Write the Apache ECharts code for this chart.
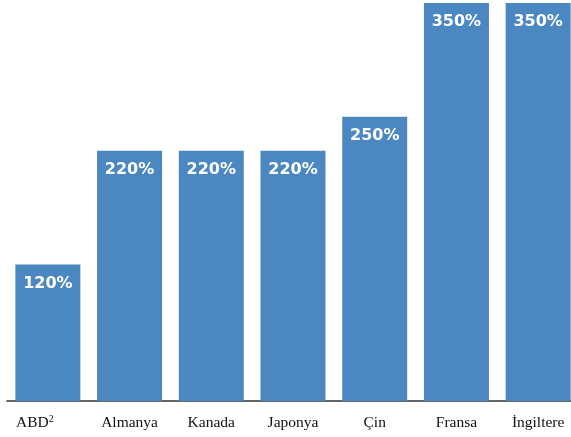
<!DOCTYPE html>
<html>
<head>
<meta charset="utf-8">
<script src="https://cdn.jsdelivr.net/npm/echarts@6/dist/echarts.min.js"></script>
<style>
  html, body { margin: 0; padding: 0; background: #fff; overflow: hidden; }
  /* the plot runs a few pixels past the right edge of the window */
  #chart { width: 580px; height: 437px; }
</style>
</head>
<body>
<div id="chart"></div>
<script>
// Country names
const categories = ['ABD', 'Almanya', 'Kanada', 'Japonya', 'Çin', 'Fransa', 'İngiltere'];
// Footnote markers per country ('' = none)
const footnotes = ['2', '', '', '', '', '', ''];
// Percent values shown on each bar
const values = [120, 220, 220, 220, 250, 350, 350];

const chart = echarts.init(document.getElementById('chart'));
chart.setOption({
  animation: false,
  grid: { left: 7, right: 1, top: 3, bottom: 36 },
  xAxis: {
    type: 'category',
    data: categories,
    axisLine: { lineStyle: { color: '#333', width: 1.5 } },
    axisTick: { show: false },
    axisLabel: {
      interval: 0,
      margin: 13,
      formatter: function (v, i) {
        return footnotes[i] ? '{n|' + v + '}{sup|' + footnotes[i] + '}' : '{n|' + v + '}';
      },
      rich: {
        n: { fontFamily: 'Liberation Serif', fontSize: 15.5, lineHeight: 18, color: '#111' },
        sup: { fontFamily: 'Liberation Serif', fontSize: 10, lineHeight: 10, verticalAlign: 'top',
               color: '#111', padding: [0, 26, 0, 0] }
      }
    }
  },
  yAxis: {
    type: 'value',
    min: 0,
    max: 350,
    show: false
  },
  series: [{
    type: 'bar',
    data: values,
    barWidth: 65,
    itemStyle: { color: '#4B87C0' },
    label: {
      show: true,
      position: 'insideTop',
      distance: 11,
      color: '#fff',
      fontFamily: 'DejaVu Sans',
      fontWeight: 'bold',
      fontSize: 16,
      formatter: function (p) { return p.value + '%'; }
    }
  }]
});
</script>
</body>
</html>
